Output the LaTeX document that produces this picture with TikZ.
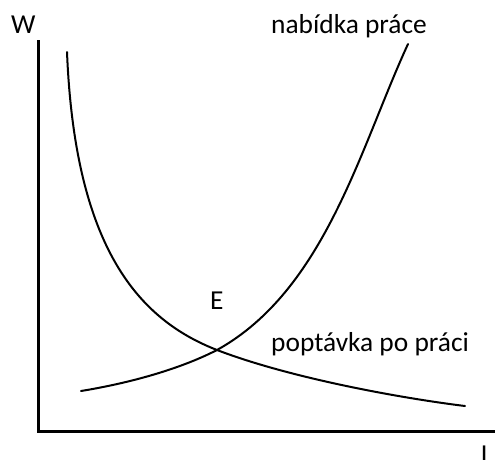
\documentclass[tikz,border=0pt]{standalone}
\usepackage{fontspec}
\setmainfont{Carlito}
\begin{document}
\begin{tikzpicture}[x=1pt,y=-1pt,
  lbl/.style={anchor=base west,inner sep=0pt,font=\fontsize{27.4}{32}\selectfont},
  axisline/.style={line width=3.5pt,line join=miter},
  curve/.style={line width=2pt,line cap=round}]
\useasboundingbox (0,0) rectangle (495,459);
\coordinate (top) at (38.5,40);
\coordinate (origin) at (38.5,431.5);
\coordinate (right) at (497,431.5);
\coordinate (dA) at (67,52);
\coordinate (dB) at (465,406);
\coordinate (sA) at (81,391);
\coordinate (sB) at (408,44);
\coordinate (eq) at (217,350);
\draw[axisline] (top) -- (origin) -- (right);
% demand
\draw[curve] (dA) .. controls (75,250) and (140,320) .. (eq)
  .. controls (290,378) and (400,398) .. (dB);
% supply
\draw[curve] (sA) .. controls (130,383) and (180,369) .. (eq)
  .. controls (325,290) and (360,148) .. (sB);
\node[lbl] (w) at (11,33) {W};
\node[lbl] (l) at (481,463) {L};
\node[lbl] (e) at (210,309) {E};
\node[lbl] (s) at (271,33) {nabídka práce};
\node[lbl] (d) at (271,351) {poptávka po práci};
\end{tikzpicture}
\end{document}
